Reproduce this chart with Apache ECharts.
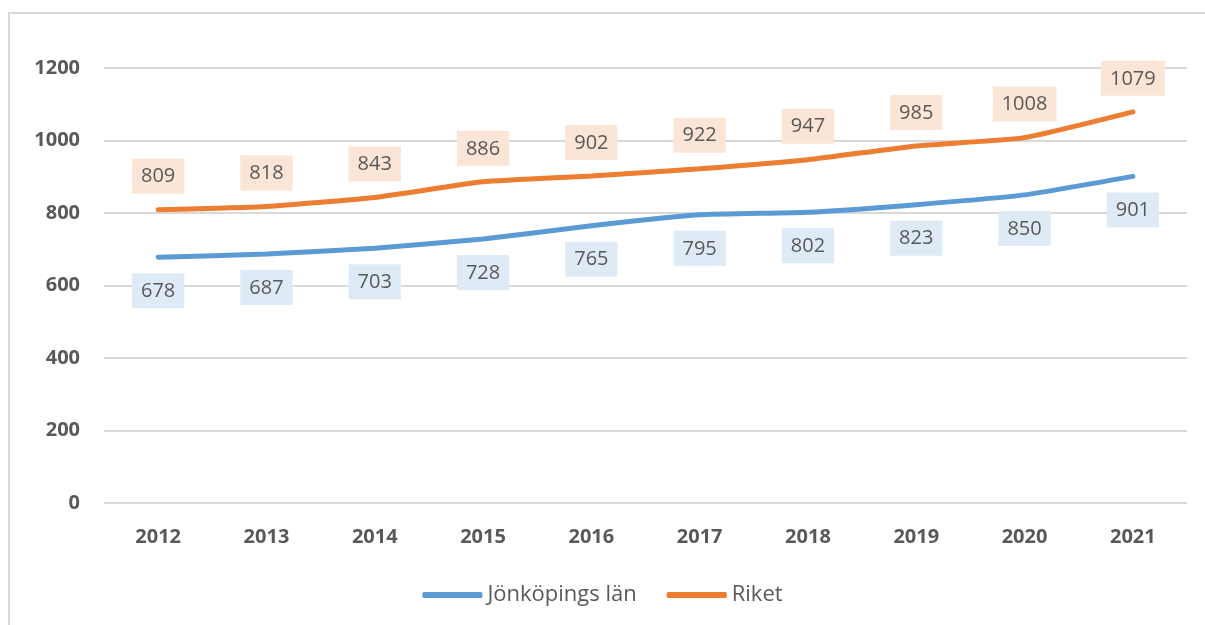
<!DOCTYPE html>
<html>
<head>
<meta charset="utf-8">
<script src="https://cdn.jsdelivr.net/npm/echarts@6/dist/echarts.min.js"></script>
<style>
  html, body { margin: 0; padding: 0; background: #fff; }
  #chart { width: 1205px; height: 625px; }
</style>
</head>
<body>
<div id="chart"></div>
<script>
const years = ['2012', '2013', '2014', '2015', '2016', '2017', '2018', '2019', '2020', '2021'];
const jonkoping = [678, 687, 703, 728, 765, 795, 802, 823, 850, 901];
const riket = [809, 818, 843, 886, 902, 922, 947, 985, 1008, 1079];
const yTicks = [0, 200, 400, 600, 800, 1000, 1200];

const textColor = '#595959';
const fontFamily = '"Open Sans", "Noto Sans", sans-serif';

const chart = echarts.init(document.getElementById('chart'));

// etikett med bakgrundsruta
const boxLabel = (pos, bg) => ({
  show: true,
  position: pos,
  distance: 16,
  color: textColor,
  fontSize: 20,
  fontFamily: fontFamily,
  backgroundColor: bg,
  padding: [8, 9, 7, 9],
});

chart.setOption({
  animation: false,
  graphic: [
    {
      type: 'rect',
      shape: { x: 9, y: 13, width: 1220, height: 640 },
      style: { fill: 'none', stroke: '#d9d9d9', lineWidth: 2 },
      silent: true,
    },
  ],
  grid: { left: 104, right: 18, top: 68, bottom: 122 },
  legend: {
    bottom: 14,
    left: 'center',
    icon: 'roundRect',
    itemWidth: 60,
    itemHeight: 6,
    itemGap: 30,
    textStyle: { color: textColor, fontSize: 22, fontFamily: fontFamily },
    data: ['Jönköpings län', 'Riket'],
  },
  xAxis: {
    type: 'category',
    data: years,
    boundaryGap: true,
    axisLine: { show: false },
    axisTick: { show: false },
    axisLabel: {
      color: textColor,
      fontSize: 20,
      fontWeight: 'bold',
      fontFamily: fontFamily,
      margin: 24,
    },
  },
  yAxis: {
    type: 'value',
    min: yTicks[0],
    max: yTicks[yTicks.length - 1],
    interval: 200,
    axisLine: { show: false },
    axisTick: { show: false },
    axisLabel: {
      color: textColor,
      fontSize: 20,
      fontWeight: 'bold',
      fontFamily: fontFamily,
      margin: 24,
      formatter: v => String(v),
    },
    splitLine: { lineStyle: { color: '#d9d9d9', width: 2 } },
  },
  series: [
    {
      name: 'Jönköpings län',
      type: 'line',
      data: jonkoping,
      smooth: 0.15,
      symbol: 'circle',
      symbolSize: 0,
      showSymbol: true,
      lineStyle: { color: '#5b9bd5', width: 5, cap: 'round' },
      itemStyle: { color: '#5b9bd5' },
      label: boxLabel('bottom', '#deebf7'),
    },
    {
      name: 'Riket',
      type: 'line',
      data: riket,
      smooth: 0.15,
      symbol: 'circle',
      symbolSize: 0,
      showSymbol: true,
      lineStyle: { color: '#ed7d31', width: 5, cap: 'round' },
      itemStyle: { color: '#ed7d31' },
      label: boxLabel('top', '#fbe5d6'),
    },
  ],
});
</script>
</body>
</html>
